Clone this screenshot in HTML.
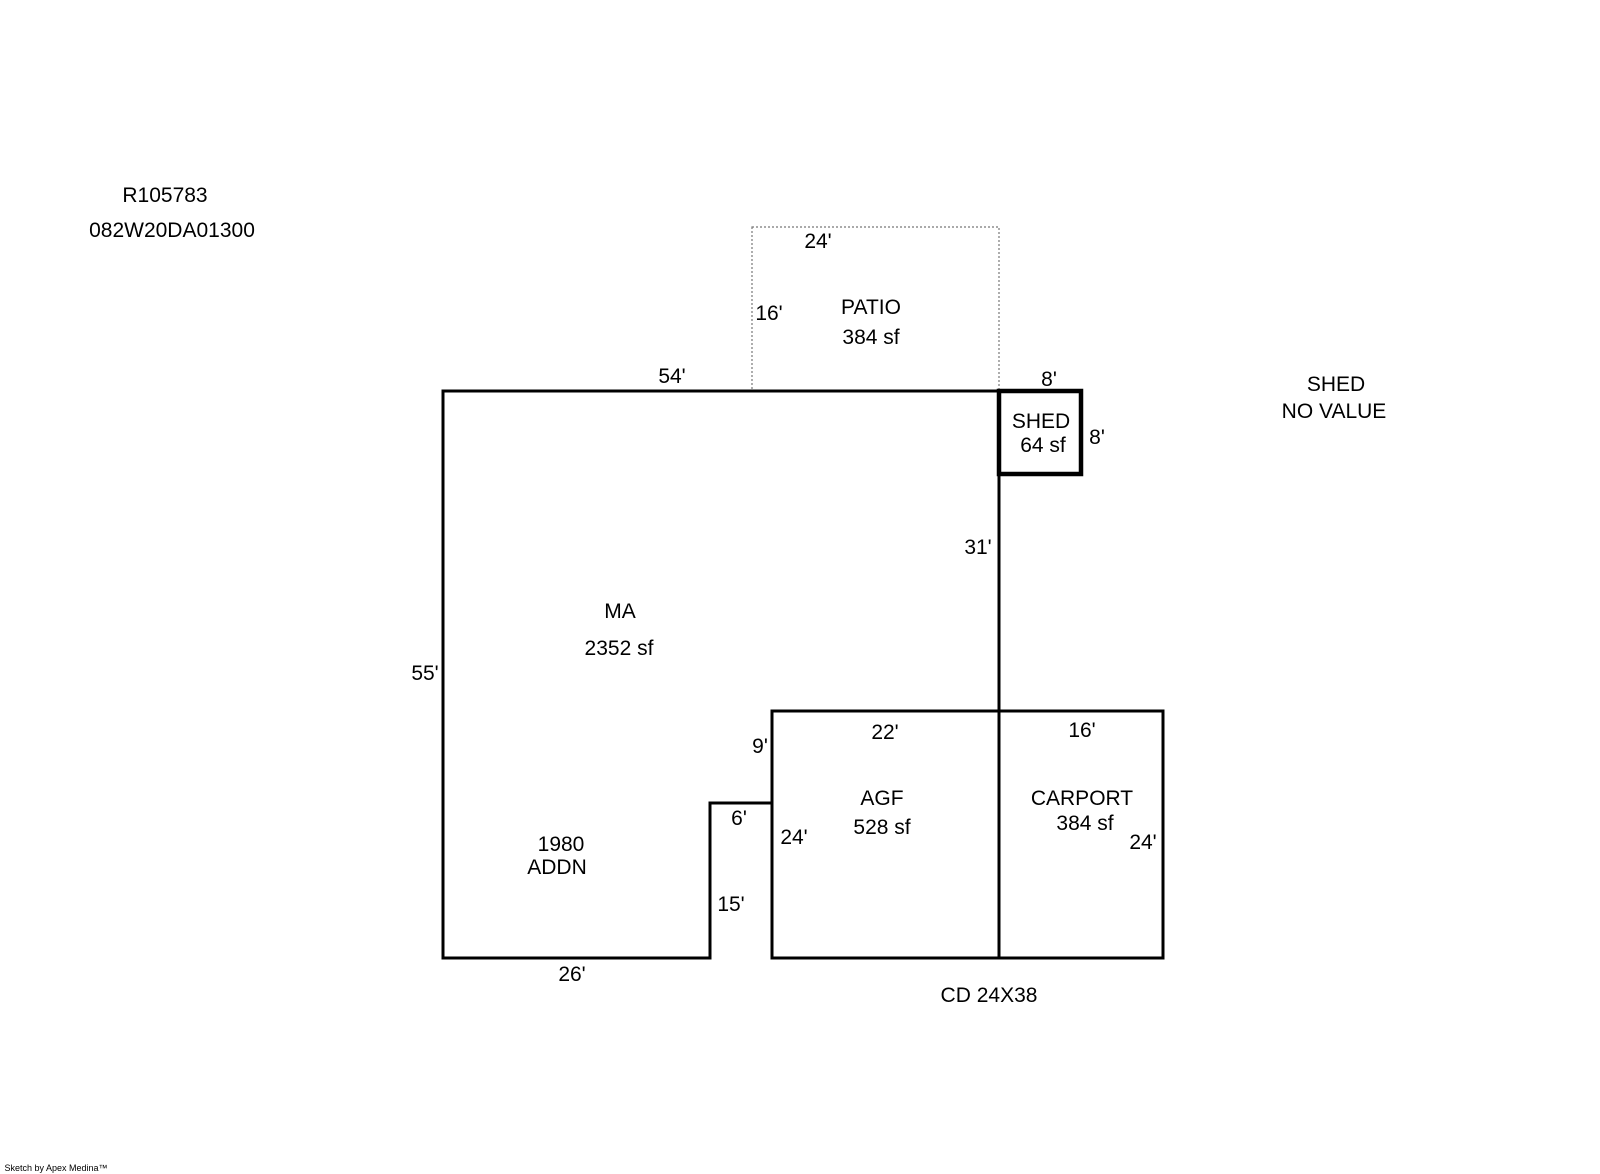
<!DOCTYPE html>
<html><head><meta charset="utf-8"><style>
html,body{margin:0;padding:0;background:#fff;}
svg{display:block;}
text{font-family:"Liberation Sans",Arial,sans-serif;font-size:21px;fill:#000;text-anchor:middle;}
</style></head><body>
<svg width="1600" height="1174" viewBox="0 0 1600 1174" xmlns="http://www.w3.org/2000/svg">
<rect x="752" y="227" width="247" height="164" fill="none" stroke="#777" stroke-width="1.2" stroke-dasharray="2,2"/>
<g fill="none" stroke="#000" stroke-width="3" stroke-linejoin="miter" stroke-linecap="square">
<path d="M443 391 L999 391 L999 711 M443 391 L443 958 L710 958 L710 803 L772 803"/>
<rect x="772" y="711" width="227" height="247"/>
<rect x="999" y="711" width="164" height="247"/>
</g>
<rect x="999" y="391" width="82" height="83" fill="none" stroke="#000" stroke-width="4.5"/>
<text x="165" y="202">R105783</text>
<text x="172" y="237">082W20DA01300</text>
<text x="818" y="248">24'</text>
<text x="769" y="320">16'</text>
<text x="871" y="314">PATIO</text>
<text x="871" y="344">384 sf</text>
<text x="672" y="383">54'</text>
<text x="1049" y="386">8'</text>
<text x="1041" y="428">SHED</text>
<text x="1043" y="452">64 sf</text>
<text x="1097" y="444">8'</text>
<text x="1336" y="391">SHED</text>
<text x="1334" y="418">NO VALUE</text>
<text x="978" y="554">31'</text>
<text x="620" y="618">MA</text>
<text x="619" y="655">2352 sf</text>
<text x="425" y="680">55'</text>
<text x="885" y="739">22'</text>
<text x="1082" y="737">16'</text>
<text x="760" y="753">9'</text>
<text x="882" y="805">AGF</text>
<text x="882" y="834">528 sf</text>
<text x="1082" y="805">CARPORT</text>
<text x="1085" y="830">384 sf</text>
<text x="1143" y="849">24'</text>
<text x="739" y="825">6'</text>
<text x="794" y="844">24'</text>
<text x="561" y="851">1980</text>
<text x="557" y="874">ADDN</text>
<text x="731" y="911">15'</text>
<text x="572" y="981">26'</text>
<text x="989" y="1002">CD 24X38</text>
<text x="56" y="1171" style="font-size:9px">Sketch by Apex Medina™</text>
</svg>
</body></html>
